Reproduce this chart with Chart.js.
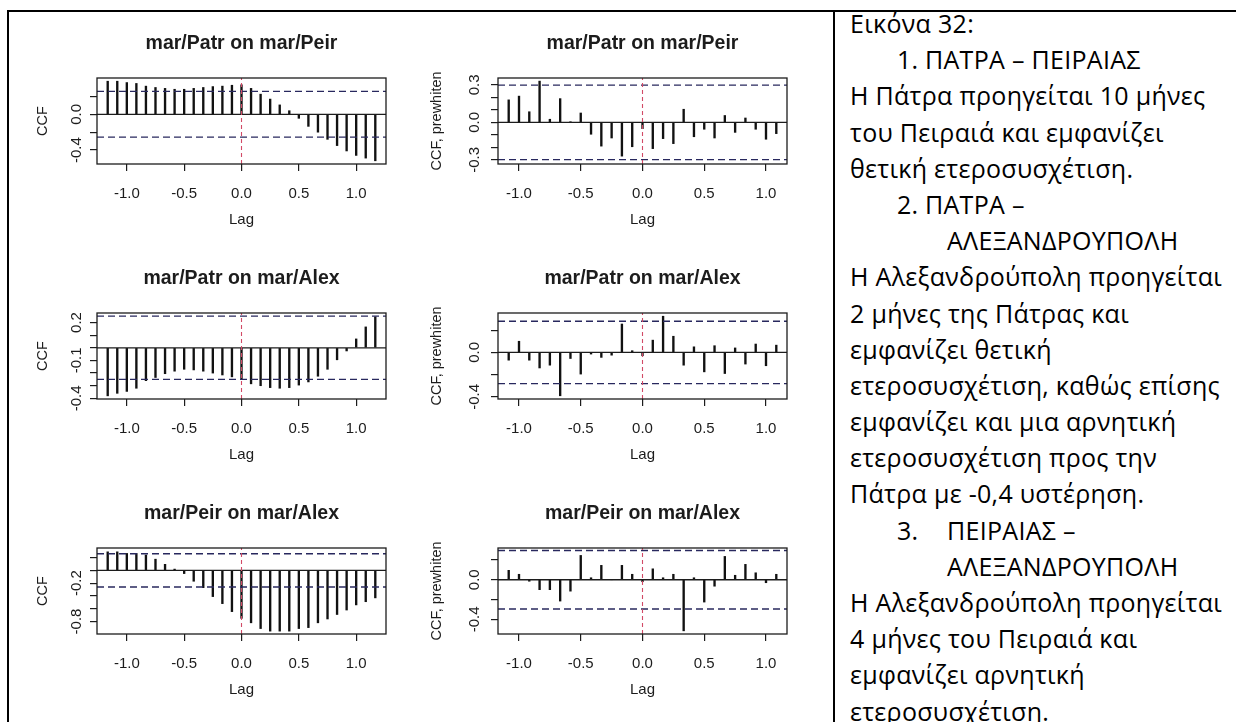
<!DOCTYPE html>
<html lang="el">
<head>
  <meta charset="UTF-8" />
  <title>Εικόνα 32 - CCF</title>
  <script src="https://cdn.jsdelivr.net/npm/chart.js"></script>
  <style>
    body { margin: 0; width: 1236px; height: 722px; background: #fff; overflow: hidden; position: relative; }
    .rule { position: absolute; background: #000; }
    canvas.panel { position: absolute; filter: blur(0.35px); }
    .notes { position: absolute; left: 850px; top: 5px; font-family: "Open Sans", "Noto Sans", sans-serif;
             font-size: 25px; letter-spacing: 0.3px; line-height: 36.2px; color: #000; }
    .notes div { white-space: nowrap; height: 36.2px; }
    .notes .num { display: inline-block; margin-left: 47px; }
    .notes .n12 { width: 28px; }
    .notes .n3 { width: 50px; }
    .notes .cont { padding-left: 97px; }
  </style>
</head>
<body>
  <div class="rule" style="left:7px; top:10px; width:1229px; height:2px;"></div>
  <div class="rule" style="left:7px; top:10px; width:2px; height:712px;"></div>
  <div class="rule" style="left:833px; top:10px; width:2px; height:712px;"></div>

  <canvas class="panel" id="c1" width="400" height="232" style="left:14px; top:15px;"></canvas>
  <canvas class="panel" id="c2" width="400" height="232" style="left:420px; top:15px;"></canvas>
  <canvas class="panel" id="c3" width="400" height="232" style="left:14px; top:250px;"></canvas>
  <canvas class="panel" id="c4" width="400" height="232" style="left:420px; top:250px;"></canvas>
  <canvas class="panel" id="c5" width="400" height="232" style="left:14px; top:485px;"></canvas>
  <canvas class="panel" id="c6" width="400" height="232" style="left:420px; top:485px;"></canvas>

  <div class="notes">
    <div>Εικόνα 32:</div>
    <div><span class="num n12">1.</span>ΠΑΤΡΑ – ΠΕΙΡΑΙΑΣ</div>
    <div>Η Πάτρα προηγείται 10 μήνες</div>
    <div>του Πειραιά και εμφανίζει</div>
    <div>θετική ετεροσυσχέτιση.</div>
    <div><span class="num n12">2.</span>ΠΑΤΡΑ –</div>
    <div class="cont">ΑΛΕΞΑΝΔΡΟΥΠΟΛΗ</div>
    <div>Η Αλεξανδρούπολη προηγείται</div>
    <div>2 μήνες της Πάτρας και</div>
    <div>εμφανίζει θετική</div>
    <div>ετεροσυσχέτιση, καθώς επίσης</div>
    <div>εμφανίζει και μια αρνητική</div>
    <div>ετεροσυσχέτιση προς την</div>
    <div>Πάτρα με -0,4 υστέρηση.</div>
    <div><span class="num n3">3.</span>ΠΕΙΡΑΙΑΣ –</div>
    <div class="cont">ΑΛΕΞΑΝΔΡΟΥΠΟΛΗ</div>
    <div>Η Αλεξανδρούπολη προηγείται</div>
    <div>4 μήνες του Πειραιά και</div>
    <div>εμφανίζει αρνητική</div>
    <div>ετεροσυσχέτιση.</div>
  </div>

  <script>
    // lags in months
    const lagsLong = [-14, -13, -12, -11, -10, -9, -8, -7, -6, -5, -4, -3, -2, -1, 0,
                      1, 2, 3, 4, 5, 6, 7, 8, 9, 10, 11, 12, 13, 14];
    const lagsShort = [-13, -12, -11, -10, -9, -8, -7, -6, -5, -4, -3, -2, -1, 0,
                       1, 2, 3, 4, 5, 6, 7, 8, 9, 10, 11, 12, 13];

    // raw cross-correlations
    const patrPeirCcf = [0.37, 0.37, 0.355, 0.345, 0.315, 0.30, 0.29, 0.28, 0.28, 0.29, 0.30, 0.31, 0.315, 0.325, 0.33,
                         0.29, 0.225, 0.17, 0.105, 0.04, -0.045, -0.135, -0.2, -0.28, -0.35, -0.41, -0.46, -0.49, -0.52];
    const patrAlexCcf = [-0.38, -0.36, -0.345, -0.32, -0.26, -0.235, -0.205, -0.185, -0.17, -0.175, -0.185, -0.2, -0.215, -0.23, -0.25,
                         -0.285, -0.30, -0.315, -0.32, -0.315, -0.295, -0.27, -0.225, -0.17, -0.095, -0.025, 0.07, 0.165, 0.245];
    const peirAlexCcf = [0.29, 0.29, 0.265, 0.265, 0.24, 0.175, 0.095, 0.02, -0.05, -0.17, -0.27, -0.41, -0.52, -0.645, -0.75,
                         -0.82, -0.91, -0.95, -0.95, -0.95, -0.91, -0.895, -0.82, -0.76, -0.69, -0.62, -0.54, -0.49, -0.43];

    // prewhitened cross-correlations
    const patrPeirPw = [0.18, 0.21, 0.085, 0.33, 0.025, 0.19, 0.005, 0.075, -0.095, -0.19, -0.125, -0.27, -0.195, -0.05,
                        -0.21, -0.13, -0.17, 0.105, -0.115, -0.055, -0.125, 0.055, -0.08, 0.035, -0.055, -0.135, -0.09];
    const patrAlexPw = [-0.07, 0.10, -0.07, -0.14, -0.115, -0.39, -0.055, -0.195, -0.015, -0.045, -0.025, 0.255, 0.015, -0.03,
                        0.11, 0.325, 0.145, -0.115, 0.05, -0.175, 0.06, -0.19, 0.04, -0.105, 0.075, -0.12, 0.065];
    const peirAlexPw = [0.095, 0.055, -0.015, -0.1, -0.1, -0.215, -0.115, 0.245, 0.02, 0.145, 0.0, 0.145, 0.055, -0.02,
                        0.11, 0.02, 0.055, -0.515, 0.02, -0.225, -0.065, 0.235, 0.045, 0.155, 0.07, -0.03, 0.055];

    // significance bounds
    const ciLimits = [0.256, 0.298, 0.25, 0.28, 0.26, 0.295];

    const xTicks = [-1.0, -0.5, 0.0, 0.5, 1.0];
    const yTicks1 = [-0.4, -0.2, 0.0, 0.2];
    const yTicks2 = [-0.3, -0.2, -0.1, 0.0, 0.1, 0.2, 0.3];
    const yTicks3 = [-0.4, -0.3, -0.2, -0.1, 0.0, 0.1, 0.2];
    const yTicks5 = [-0.8, -0.6, -0.4, -0.2, 0.0, 0.2];
    const yLabels1 = [-0.4, 0.0];
    const yLabels2 = [-0.3, 0.0, 0.3];
    const yLabels3 = [-0.4, -0.1, 0.2];
    const yLabels5 = [-0.8, -0.2];

    const ink = "#1c1c1c";
    const rFont = "'Liberation Sans', Arial, sans-serif";

    // R-style box around the plot region
    const framePlugin = {
      id: "frame",
      afterDraw(chart) {
        const a = chart.chartArea;
        const ctx = chart.ctx;
        ctx.save();
        ctx.strokeStyle = ink;
        ctx.lineWidth = 1.3;
        ctx.strokeRect(a.left, a.top, a.right - a.left, a.bottom - a.top);
        ctx.restore();
      }
    };

    function makePanel(id, p) {
      const xs = p.lags.map(m => m / 12);
      const xMax = (p.lags[p.lags.length - 1] / 12) * 1.08;
      const xMin = -xMax;
      const bars = p.values.map((v, i) => ({ x: xs[i], y: v }));
      const hLine = (y) => [{ x: xMin, y: y }, { x: xMax, y: y }];
      const left = p.side === "left";

      new Chart(document.getElementById(id), {
        type: "bar",
        data: {
          datasets: [
            { type: "line", data: [{ x: 0, y: p.yMin }, { x: 0, y: p.yMax }], borderColor: "#d24a66",
              borderWidth: 1.1, borderDash: [4, 3], pointRadius: 0, order: 0 },
            { type: "line", data: hLine(p.ci), borderColor: "#28285e", borderWidth: 1.3,
              borderDash: [7, 4], pointRadius: 0, order: 1 },
            { type: "line", data: hLine(-p.ci), borderColor: "#28285e", borderWidth: 1.3,
              borderDash: [7, 4], pointRadius: 0, order: 1 },
            { type: "line", data: hLine(0), borderColor: ink, borderWidth: 1.3, pointRadius: 0, order: 1 },
            { type: "bar", data: bars, backgroundColor: "#111", barThickness: 1.7, order: 2 }
          ]
        },
        options: {
          responsive: false,
          animation: false,
          devicePixelRatio: 1,
          layout: { padding: { left: 0, right: left ? 28 : 33, top: 0, bottom: 0 } },
          plugins: {
            legend: { display: false },
            tooltip: { enabled: false },
            title: {
              display: true, text: p.title, fullSize: false, color: ink,
              font: { family: rFont, size: 19.5, weight: "bold" },
              padding: { top: 16.8, bottom: 22.8 }
            }
          },
          scales: {
            x: {
              type: "linear", min: xMin, max: xMax, offset: false,
              afterFit: (s) => { s.height = 83; },
              afterBuildTicks: (s) => { s.ticks = xTicks.map(v => ({ value: v })); },
              grid: { drawOnChartArea: false, drawTicks: true, tickLength: 7, color: ink, lineWidth: 1.2, offset: false },
              border: { display: false },
              ticks: { color: ink, font: { family: rFont, size: 15 }, padding: 14, maxRotation: 0, autoSkip: false,
                       callback: (v) => Number(v).toFixed(1) },
              title: { display: true, text: "Lag", color: ink, font: { family: rFont, size: 15 },
                       padding: { top: 0, bottom: 18 } }
            },
            y: {
              min: p.yMin, max: p.yMax,
              afterFit: (s) => { s.width = left ? 83 : 78; },
              afterBuildTicks: (s) => { s.ticks = p.yTicks.map(v => ({ value: v })); },
              grid: { drawOnChartArea: false, drawTicks: true, tickLength: 7, color: ink, lineWidth: 1.2 },
              border: { display: false },
              ticks: {
                color: ink, font: { family: rFont, size: 15 }, padding: left ? 0 : 3,
                minRotation: 90, maxRotation: 90, crossAlign: "center", autoSkip: false,
                callback: (v) => p.yLabels.some(l => Math.abs(l - v) < 1e-9) ? Number(v).toFixed(1) : ""
              },
              title: { display: true, text: p.yTitle, color: ink, font: { family: rFont, size: 14.5 },
                       padding: { top: left ? 20.3 : 8.3, bottom: 0 } }
            }
          }
        },
        plugins: [framePlugin]
      });
    }

    makePanel("c1", { side: "left", title: "mar/Patr on mar/Peir", yTitle: "CCF", lags: lagsLong, values: patrPeirCcf,
                      ci: ciLimits[0], yMin: -0.556, yMax: 0.406, yTicks: yTicks1, yLabels: yLabels1 });
    makePanel("c2", { side: "right", title: "mar/Patr on mar/Peir", yTitle: "CCF, prewhiten", lags: lagsShort, values: patrPeirPw,
                      ci: ciLimits[1], yMin: -0.333, yMax: 0.355, yTicks: yTicks2, yLabels: yLabels2 });
    makePanel("c3", { side: "left", title: "mar/Patr on mar/Alex", yTitle: "CCF", lags: lagsLong, values: patrAlexCcf,
                      ci: ciLimits[2], yMin: -0.405, yMax: 0.275, yTicks: yTicks3, yLabels: yLabels3 });
    makePanel("c4", { side: "right", title: "mar/Patr on mar/Alex", yTitle: "CCF, prewhiten", lags: lagsShort, values: patrAlexPw,
                      ci: ciLimits[3], yMin: -0.419, yMax: 0.354, yTicks: yTicks1, yLabels: yLabels1 });
    makePanel("c5", { side: "left", title: "mar/Peir on mar/Alex", yTitle: "CCF", lags: lagsLong, values: peirAlexCcf,
                      ci: ciLimits[4], yMin: -0.995, yMax: 0.35, yTicks: yTicks5, yLabels: yLabels5 });
    makePanel("c6", { side: "right", title: "mar/Peir on mar/Alex", yTitle: "CCF, prewhiten", lags: lagsShort, values: peirAlexPw,
                      ci: ciLimits[5], yMin: -0.547, yMax: 0.32, yTicks: yTicks1, yLabels: yLabels1 });
  </script>
</body>
</html>
